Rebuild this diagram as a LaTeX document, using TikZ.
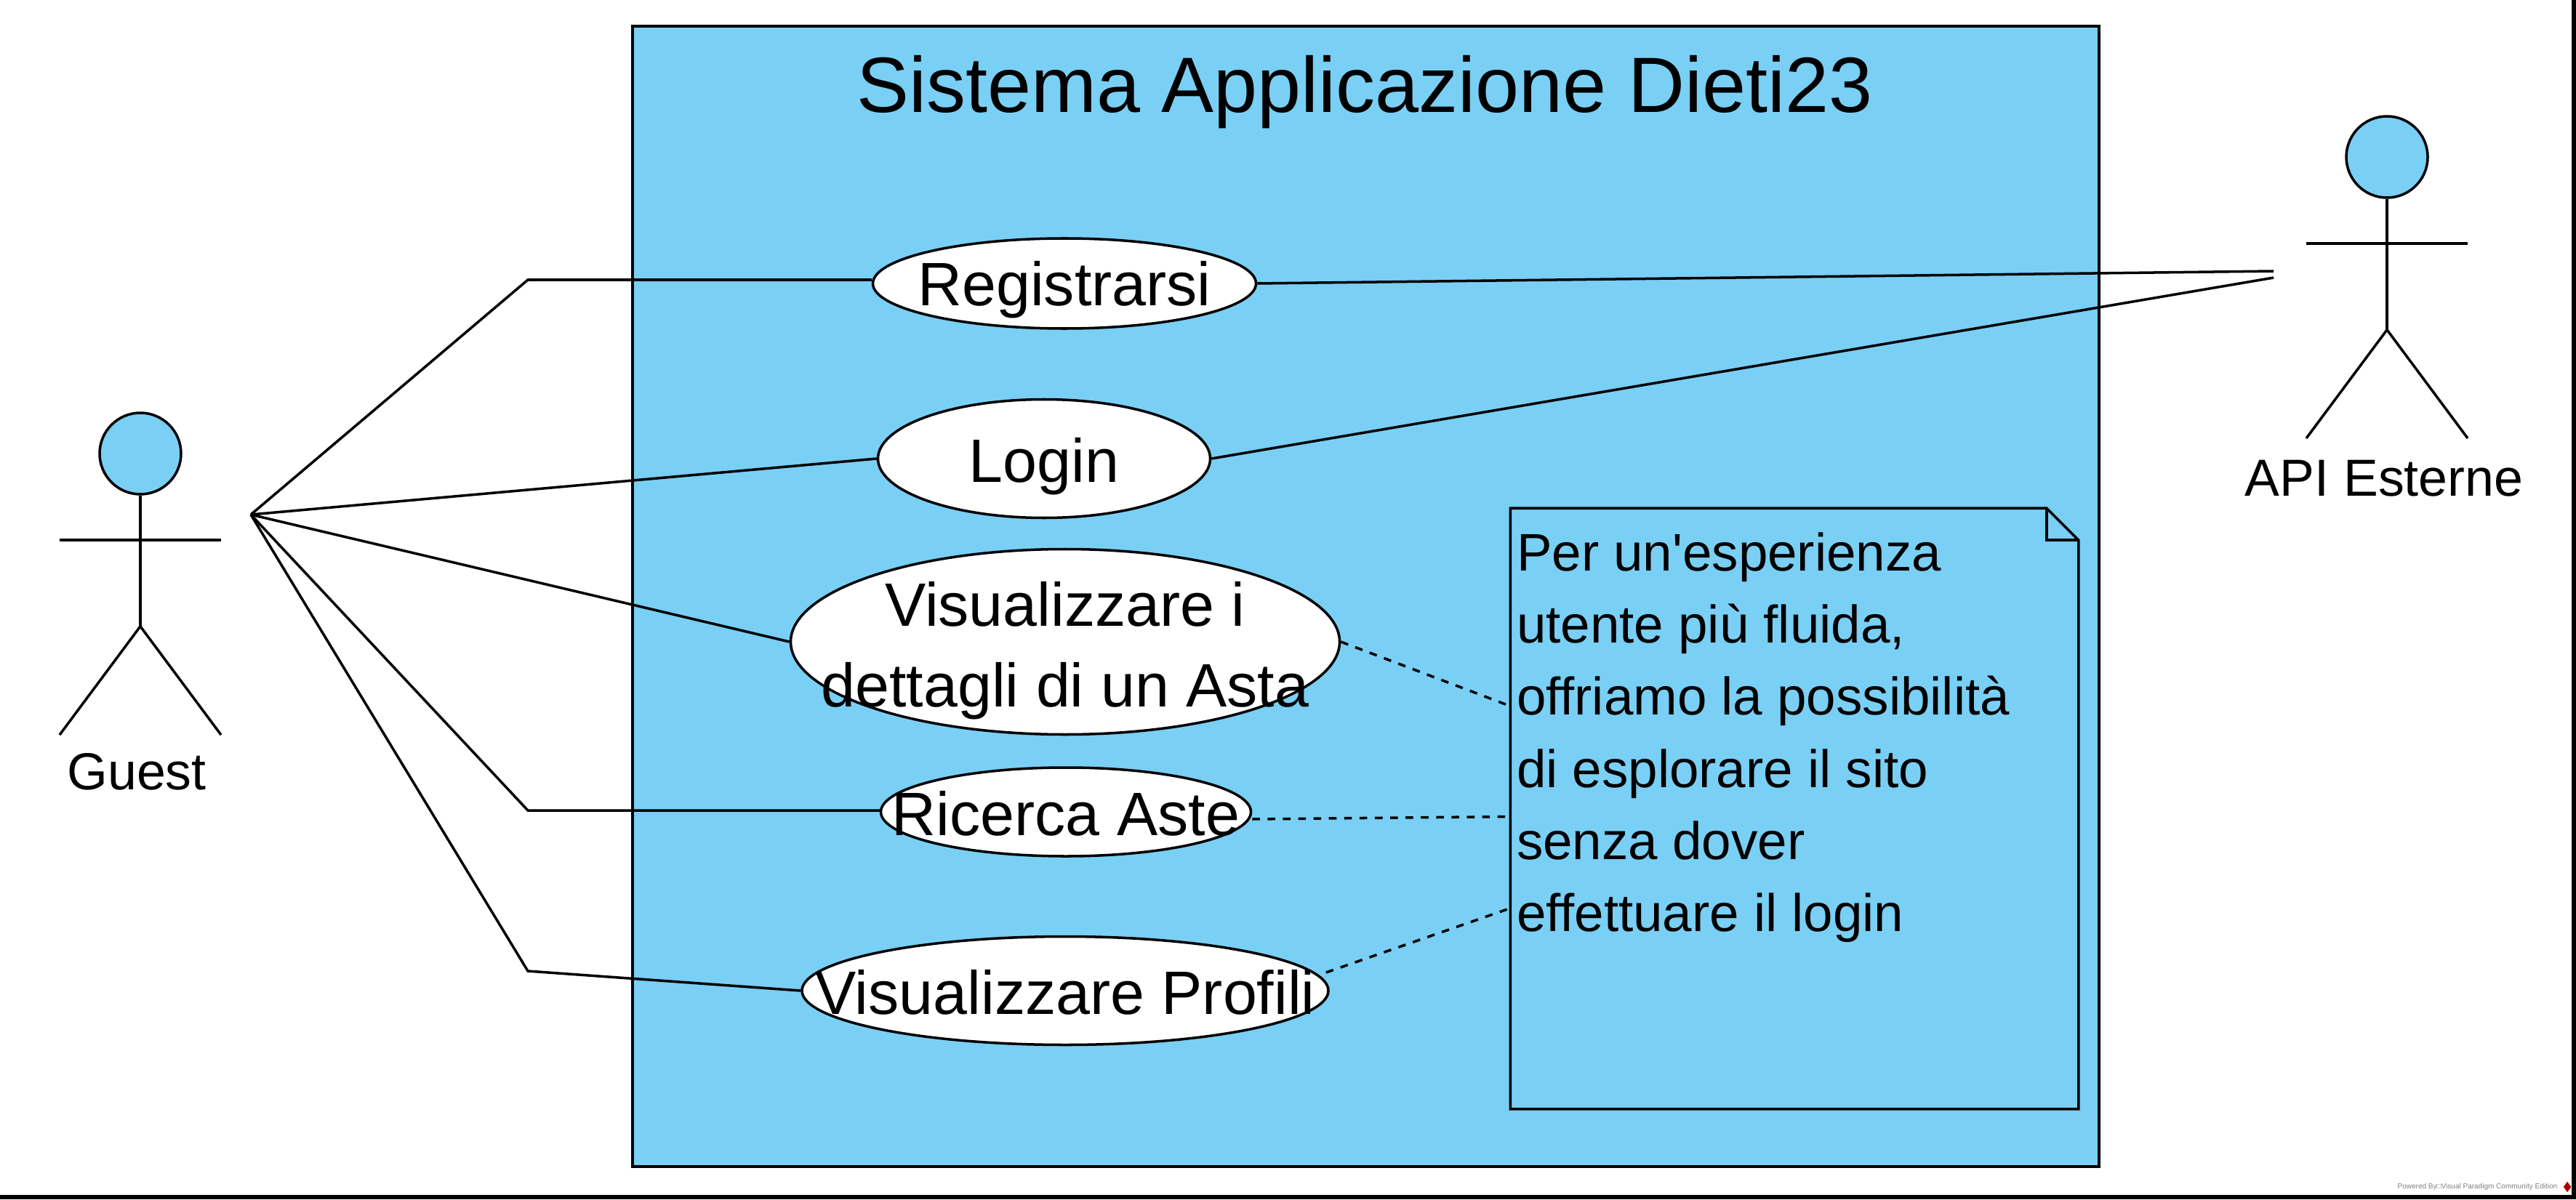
\documentclass[tikz,border=0pt]{standalone}
\usepackage{fontspec}
\setmainfont{Liberation Sans}[Ligatures=TeXOff]
\usetikzlibrary{shapes.geometric}
\definecolor{sfondoUML}{HTML}{7ACFF5}
\tikzset{
  tratto/.style={line width=1pt},
  usecase/.style={draw, tratto, ellipse, fill=white, inner sep=0pt},
  uctesto/.style={font=\fontsize{24pt}{31.5pt}\selectfont, align=center, inner sep=0pt},
  attore/.style={font=\fontsize{20.4pt}{24pt}\selectfont, inner sep=0pt, anchor=base},
  testa/.style={draw, tratto, circle, fill=sfondoUML, minimum size=1.12cm, inner sep=0pt}
}
\begin{document}
\begin{tikzpicture}[tratto]
    \useasboundingbox (0,0) rectangle (35.43,16.5);

    % Cornice della pagina
    \coordinate (bordoA) at (0,0.03);
    \coordinate (bordoB) at (35.40,0.03);
    \coordinate (bordoC) at (35.40,16.5);
    \draw[line width=1.7pt] (bordoA) -- (bordoB) -- (bordoC);

    % Sistema
    \node[draw, tratto, rectangle, fill=sfondoUML, minimum width=20.17cm, minimum height=15.69cm] (sistema) at (18.785,8.295) {};
    \node[font=\fontsize{30.7pt}{36pt}\selectfont, inner sep=0pt] (titolo) at (18.77,15.23) {Sistema Applicazione Dieti23};

    % Casi d'uso
    \node[usecase, minimum width=5.27cm, minimum height=1.24cm, label={[uctesto,yshift=-0.09cm]center:Registrarsi}] (reg) at (14.64,12.60) {};
    \node[usecase, minimum width=4.57cm, minimum height=1.63cm, label={[uctesto,yshift=-0.11cm]center:Login}] (login) at (14.36,10.19) {};
    \node[usecase, minimum width=7.55cm, minimum height=2.55cm, label={[uctesto,yshift=-0.12cm]center:Visualizzare i\\dettagli di un Asta}] (asta) at (14.65,7.67) {};
    \node[usecase, minimum width=5.09cm, minimum height=1.22cm, label={[uctesto,yshift=-0.02cm]center:Ricerca Aste}] (ricerca) at (14.66,5.33) {};
    \node[usecase, minimum width=7.24cm, minimum height=1.49cm, label={[uctesto,yshift=-0.02cm]center:Visualizzare Profili}] (profili) at (14.65,2.87) {};

    % Nota
    \node[rectangle, minimum width=7.78cm, minimum height=8.23cm] (nota) at (24.68,5.375) {};
    \draw[tratto] (nota.north west) -- ([xshift=-0.44cm]nota.north east) -- ([yshift=-0.44cm]nota.north east) -- (nota.south east) -- (nota.south west) -- cycle;
    \draw[tratto] ([xshift=-0.44cm]nota.north east) -- ([xshift=-0.44cm,yshift=-0.44cm]nota.north east) -- ([yshift=-0.44cm]nota.north east);
    \node[anchor=north west, align=left, inner sep=0pt, font=\fontsize{20.7pt}{28.2pt}\selectfont] (notatesto) at ([xshift=0.07cm,yshift=-0.32cm]nota.north west) {Per un'esperienza\\utente più fluida,\\offriamo la possibilità\\di esplorare il sito\\senza dover\\effettuare il login};

    % Attori
    \node[testa] (guest) at (1.93,10.26) {};
    \node[testa] (api) at (32.83,14.34) {};
    \foreach \a in {guest,api} {
      \draw (\a.south) -- ([yshift=-1.80cm]\a.south) coordinate (\a anca);
      \draw ([xshift=-1.11cm,yshift=-1.19cm]\a.center) -- ([xshift=1.11cm,yshift=-1.19cm]\a.center);
      \draw ([xshift=-1.11cm,yshift=-3.87cm]\a.center) -- (\a anca) -- ([xshift=1.11cm,yshift=-3.87cm]\a.center);
    }
    \node[attore] (guestnome) at (1.88,5.64) {Guest};
    \node[attore] (apinome) at (32.79,9.68) {API Esterne};

    % Associazioni
    \coordinate (fuoco) at (3.45,9.42);
    \coordinate (gomitoA) at (7.26,12.65);
    \coordinate (gomitoB) at (7.26,5.35);
    \coordinate (gomitoC) at (7.26,3.14);
    \coordinate (apiA) at (31.27,12.77);
    \coordinate (apiB) at (31.27,12.68);
    \draw (fuoco) -- (gomitoA) -- ([yshift=0.05cm]reg.west);
    \draw (fuoco) -- (login.west);
    \draw (fuoco) -- (asta.west);
    \draw (fuoco) -- (gomitoB) -- ([yshift=0.02cm]ricerca.west);
    \draw (fuoco) -- (gomitoC) -- (profili.west);
    \draw (reg.east) -- (apiA);
    \draw (login.east) -- (apiB);

    % Tratteggi verso la nota
    \draw[dashed] (asta.east) -- ([yshift=1.41cm]nota.west);
    \draw[dashed] ([yshift=-0.1cm]ricerca.east) -- ([yshift=-0.11cm]nota.west);
    \draw[dashed] ([xshift=-0.05cm,yshift=0.25cm]profili.east) -- ([yshift=-1.37cm]nota.west);

    % Scritta in basso
    \node[anchor=east, inner sep=0pt, text=gray, font=\fontsize{2.85pt}{4pt}\selectfont] (marchio) at (35.19,0.17) {Powered By□Visual Paradigm Community Edition};
    \node[diamond, fill=red!70!black, minimum width=0.12cm, minimum height=0.16cm, inner sep=0pt] (logo) at (35.31,0.17) {};
\end{tikzpicture}
\end{document}
